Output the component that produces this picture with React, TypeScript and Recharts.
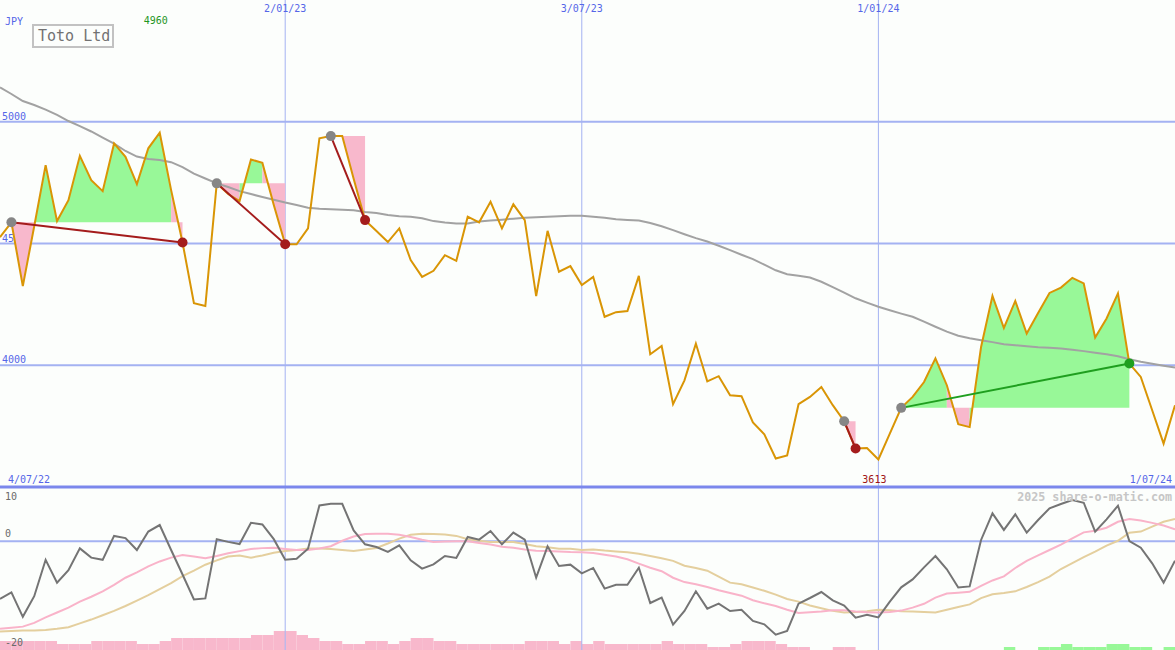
import React from 'react';
import {
  ComposedChart,
  Line,
  Area,
  Bar,
  Cell,
  XAxis,
  YAxis,
  ReferenceLine,
  ReferenceDot,
} from 'recharts';

// ---------------- data (weekly, index 0 = week of 11 Jul 2022) ----------------
const price = [
  4526, 4587, 4325, 4571, 4822, 4592, 4678, 4860, 4760, 4715,
  4911, 4856, 4744, 4891, 4955, 4719, 4504, 4255, 4243, 4747,
  4703, 4674, 4845, 4831, 4658, 4497, 4497, 4562, 4932, 4941,
  4941, 4766, 4596, 4551, 4506, 4562, 4432, 4363, 4388, 4452,
  4429, 4610, 4587, 4671, 4562, 4661, 4596, 4284, 4552, 4384,
  4407, 4329, 4363, 4199, 4218, 4223, 4367, 4045, 4079, 3840,
  3938, 4089, 3934, 3955, 3877, 3873, 3765, 3716, 3617, 3630,
  3840, 3870, 3911, 3836, 3770, 3658, 3660, 3613, 3719, 3825,
  3870, 3931, 4028, 3918, 3758, 3746, 4075, 4285, 4153, 4264,
  4130, 4215, 4297, 4319, 4359, 4336, 4114, 4192, 4295, 4007,
  3952, 3815, 3678, 3836,
];

const movingAvg = [
  5141, 5114, 5085, 5069, 5050, 5028, 5003, 4982, 4960, 4935,
  4910, 4880, 4857, 4847, 4843, 4834, 4814, 4787, 4767, 4747,
  4732, 4715, 4703, 4691, 4680, 4668, 4658, 4647, 4643, 4641,
  4639, 4637, 4629, 4625, 4617, 4612, 4610, 4604, 4592, 4586,
  4582, 4582, 4590, 4594, 4598, 4602, 4606, 4608, 4610, 4612,
  4614, 4614, 4610, 4606, 4600, 4597, 4594, 4584, 4571, 4555,
  4538, 4522, 4508, 4491, 4473, 4454, 4436, 4413, 4390, 4374,
  4368, 4360, 4343, 4321, 4298, 4275, 4257, 4240, 4226, 4212,
  4199, 4179, 4158, 4138, 4121, 4111, 4103, 4095, 4086, 4082,
  4078, 4074, 4072, 4069, 4064, 4058, 4051, 4045, 4037, 4025,
  4014, 4006, 3998, 3991,
];

const oscillator = [
  -10.6, -9.4, -13.9, -10.1, -3.4, -7.6, -5.3, -1.3, -3.0, -3.4,
  1.0, 0.6, -1.6, 1.8, 3.0, -1.6, -6.1, -10.7, -10.5, 0.4,
  -0.1, -0.5, 3.4, 3.1, 0.4, -3.4, -3.2, -1.35, 6.6, 6.9,
  6.9, 2.0, -0.55, -1.04, -1.96, -0.74, -3.5, -5.03, -4.23, -2.7,
  -3.07, 0.8, 0.31, 1.9, -0.55, 1.6, 0.31, -6.69, -0.92, -4.54,
  -4.29, -5.9, -4.9, -8.7, -7.98, -7.98, -4.85, -11.35, -10.37, -15.34,
  -12.82, -9.2, -12.39, -11.47, -12.82, -12.58, -14.66, -15.28, -17.18, -16.5,
  -11.47, -10.43, -9.33, -10.86, -11.84, -14.05, -13.5, -14.0, -11.1, -8.47,
  -7.0, -4.8, -2.7, -5.15, -8.5, -8.3, 0.25, 5.15, 2.1, 4.97,
  1.6, 3.93, 6.07, 6.87, 7.6, 7.1, 1.78, 4.05, 6.56, 0.06,
  -1.17, -4.05, -7.6, -3.56,
];

const oscFast = [
  -16.1, -15.9, -15.7, -15.0, -14.0, -13.1, -12.2, -11.1, -10.2, -9.2,
  -8.0, -6.7, -5.7, -4.6, -3.7, -3.0, -2.5, -2.8, -3.1, -2.7,
  -2.2, -1.8, -1.4, -1.25, -1.2, -1.4, -1.6, -1.6, -1.3, -0.9,
  0.1, 0.9, 1.35, 1.41, 1.4, 1.23, 0.8, 0.3, -0.1, -0.05,
  0, 0, -0.3, -0.6, -1.0, -1.2, -1.5, -1.75, -1.8, -1.85,
  -1.95, -2.0, -2.15, -2.45, -2.8, -3.3, -4.1, -4.85, -5.5, -6.7,
  -7.5, -7.9, -8.4, -9.0, -9.5, -10.0, -10.85, -11.4, -11.9, -12.6,
  -13.2, -13.05, -12.9, -12.7, -12.7, -12.9, -13.05, -13.1, -13.0, -12.75,
  -12.2, -11.5, -10.35, -9.6, -9.45, -9.3, -8.2, -7.2, -6.45, -4.9,
  -3.6, -2.6, -1.6, -0.6, 0.55, 1.65, 1.95, 2.5, 3.6, 4.1,
  3.85, 3.4, 2.9, 2.2,
];

const oscSlow = [
  -16.6, -16.5, -16.4, -16.4, -16.3, -16.1, -15.8, -15.1, -14.4, -13.6,
  -12.8, -11.9, -10.9, -9.9, -8.8, -7.7, -6.4, -5.4, -4.3, -3.5,
  -2.8, -2.6, -3.0, -2.6, -2.1, -1.8, -1.6, -1.3, -1.3, -1.4,
  -1.6, -1.8, -1.5, -1.23, -0.4, 0.5, 1.2, 1.4, 1.35, 1.25,
  1.0, 0.4, 0.1, -0.1, -0.12, -0.12, -0.5, -0.92, -1.1, -1.35,
  -1.35, -1.6, -1.5, -1.7, -1.85, -2.0, -2.3, -2.7, -3.1, -3.6,
  -4.5, -4.9, -5.4, -6.5, -7.6, -7.9, -8.5, -9.1, -9.8, -10.6,
  -11.1, -11.8, -12.3, -12.8, -13.1, -13.0, -12.85, -12.6, -12.7, -12.85,
  -12.9, -13.0, -13.1, -12.6, -12.1, -11.6, -10.45, -9.75, -9.5, -9.2,
  -8.4, -7.5, -6.5, -5.1, -4.0, -2.9, -1.9, -0.8, 0.1, 1.6,
  1.8, 2.7, 3.6, 4.1,
];

// signed histogram (negative = pink, positive = green), one per week interval
const histogram = [
  -9, -9, -9, -9, -9, -6, -6, -6, -9, -9,
  -9, -9, -6, -6, -9, -12, -12, -12, -12, -12,
  -12, -12, -15, -15, -19, -19, -15, -12, -9, -9,
  -6, -6, -9, -9, -6, -9, -12, -12, -9, -9,
  -6, -6, -6, -6, -6, -6, -9, -9, -9, -6,
  -9, -6, -9, -6, -6, -6, -6, -6, -9, -6,
  -6, -6, -3, -3, -6, -9, -9, -9, -6, -3,
  -3, 0, 0, -3, -3, 0, 0, 0, 0, 0,
  0, 0, 0, 0, 0, 0, 0, 0, 3, 0,
  0, 3, 3, 6, 3, 3, 3, 6, 6, 3,
  3, 0, 3, 0,
];

const trades = [
  { start: 1, end: 16 },
  { start: 19, end: 25 },
  { start: 29, end: 32 },
  { start: 74, end: 75 },
  { start: 79, end: 99 },
];

const priceTicks = [4000, 4500, 5000];
const priceDomain: [number, number] = [3500, 5500];
const oscDomain: [number, number] = [-20, 10];
const histDomain: [number, number] = [0, 163];
const weekDomain: [number, number] = [0, 103];
const dateLines = [
  { label: '2/01/23', week: 25 },
  { label: '3/07/23', week: 51 },
  { label: '1/01/24', week: 77 },
];
const firstDateLabel = '4/07/22';
const lastDateLabel = '1/07/24';
const highLabel = { text: '4960', week: 14 };
const lowLabel = { text: '3613', week: 77 };
const currency = 'JPY';
const title = 'Toto Ltd';
const oscTickLabels = [
  { text: '10', value: 10 },
  { text: '0', value: 0 },
  { text: '-20', value: -20 },
];
const watermark = '2025 share-o-matic.com';

// ---------------- styles ----------------
const WIDTH = 1175;
const MAIN_H = 487;
const LOW_TOP = 485;
const LOW_H = 165;
const MONO = '"DejaVu Sans Mono", "Liberation Mono", monospace';
const BG = '#fcfefc';
const GRID = '#a4b2f2';
const SEP = '#7b87ec';
const BLUE_TXT = '#5566e8';
const ORANGE = '#d99505';
const GREEN_FILL = '#98f898';
const PINK_FILL = '#f8b8cc';
const LOSS = '#a41c1c';
const WIN = '#1f9f1f';
const MARGIN0 = { top: 0, right: 0, bottom: 0, left: 0 };

// ---------------- derived chart rows ----------------
type Row = Record<string, number | null | undefined>;
const mainData: Row[] = price.map((p, i) => ({ i, price: p, ma: movingAvg[i] }));
const runs: { key: string; base: number; color: string }[] = [];
const tradeLines: { key: string; color: string }[] = [];

trades.forEach((t, k) => {
  const base = price[t.start];
  const pushRun = (a: number, b: number, c: string) => {
    const key = `run${runs.length}`;
    for (let i = a; i <= b; i++) mainData[i][key] = price[i];
    runs.push({ key, base, color: c === 'g' ? GREEN_FILL : PINK_FILL });
  };
  let runStart = t.start;
  let runColor: string | null = null;
  for (let j = t.start; j < t.end; j++) {
    const c = price[j + 1] >= base ? 'g' : 'p';
    if (runColor === null) runColor = c;
    else if (c !== runColor) {
      pushRun(runStart, j, runColor);
      runStart = j;
      runColor = c;
    }
  }
  pushRun(runStart, t.end, runColor || 'p');
  const win = price[t.end] > base;
  const key = `tl${k}`;
  mainData[t.start][key] = base;
  mainData[t.end][key] = price[t.end];
  tradeLines.push({ key, color: win ? WIN : LOSS });
  mainData[t.start].dotStart = base;
  mainData[t.end][win ? 'dotWin' : 'dotLoss'] = price[t.end];
});

const lowData = oscillator.map((v, i) => ({
  i,
  ib: i + 0.5,
  osc: v,
  fast: oscFast[i],
  slow: oscSlow[i],
  h: Math.abs(histogram[i]),
  hs: histogram[i],
}));

const oscY = (v: number) => LOW_TOP + 2 + ((oscDomain[1] - v) / (oscDomain[1] - oscDomain[0])) * (LOW_H - 2);

const layer: React.CSSProperties = { position: 'absolute', left: 0, top: 0 };

export default function App() {
  return (
    <div
      style={{
        position: 'absolute',
        left: 0,
        top: 0,
        width: WIDTH,
        height: 650,
        background: BG,
        overflow: 'hidden',
        fontFamily: MONO,
      }}
    >
      {/* background grid layer of the price panel (drawn under the fills) */}
      <div style={layer}>
        <ComposedChart width={WIDTH} height={MAIN_H} data={mainData} margin={MARGIN0}>
          <XAxis type="number" dataKey="i" domain={weekDomain} hide allowDataOverflow />
          <YAxis type="number" domain={priceDomain} hide allowDataOverflow />
          <Line dataKey="price" stroke="none" dot={false} activeDot={false} isAnimationActive={false} />
          {dateLines.map((d) => (
            <ReferenceLine
              key={d.label}
              x={d.week}
              stroke={GRID}
              strokeWidth={1}
              label={{ value: d.label, position: 'insideTop', offset: 5, fill: BLUE_TXT, fontSize: 10, fontFamily: MONO }}
            />
          ))}
          {priceTicks.map((v) => (
            <ReferenceLine
              key={v}
              y={v}
              stroke={GRID}
              strokeWidth={2}
              label={{ value: String(v), position: 'insideBottomLeft', offset: 2, fill: BLUE_TXT, fontSize: 10, fontFamily: MONO }}
            />
          ))}
        </ComposedChart>
      </div>

      {/* price panel series */}
      <div style={layer}>
        <ComposedChart width={WIDTH} height={MAIN_H} data={mainData} margin={MARGIN0}>
          <XAxis type="number" dataKey="i" domain={weekDomain} hide allowDataOverflow />
          <YAxis type="number" domain={priceDomain} hide allowDataOverflow />
          {runs.map((r) => (
            <Area
              key={r.key}
              type="linear"
              dataKey={r.key}
              baseValue={r.base}
              stroke="none"
              fill={r.color}
              fillOpacity={1}
              dot={false}
              activeDot={false}
              isAnimationActive={false}
            />
          ))}
          <Line type="linear" dataKey="ma" stroke="#a2a2a2" strokeWidth={2} dot={false} activeDot={false} isAnimationActive={false} />
          <Line type="linear" dataKey="price" stroke={ORANGE} strokeWidth={2} dot={false} activeDot={false} isAnimationActive={false} />
          {tradeLines.map((t) => (
            <Line
              key={t.key}
              type="linear"
              dataKey={t.key}
              stroke={t.color}
              strokeWidth={2}
              connectNulls
              dot={false}
              activeDot={false}
              isAnimationActive={false}
            />
          ))}
          <Line dataKey="dotStart" stroke="none" dot={{ r: 5, fill: '#868686', stroke: 'none' }} activeDot={false} isAnimationActive={false} />
          <Line dataKey="dotLoss" stroke="none" dot={{ r: 5, fill: LOSS, stroke: 'none' }} activeDot={false} isAnimationActive={false} />
          <Line dataKey="dotWin" stroke="none" dot={{ r: 5, fill: WIN, stroke: 'none' }} activeDot={false} isAnimationActive={false} />
          <ReferenceDot
            x={highLabel.week}
            y={priceDomain[1]}
            r={1}
            fill="none"
            stroke="none"
            label={{ value: highLabel.text, position: 'bottom', offset: 16, dx: -4, fill: '#1f961f', fontSize: 10, fontFamily: MONO }}
          />
          <ReferenceDot
            x={lowLabel.week}
            y={priceDomain[0]}
            r={1}
            fill="none"
            stroke="none"
            label={{ value: lowLabel.text, position: 'top', offset: 3, dx: -4, fill: '#a01414', fontSize: 10, fontFamily: MONO }}
          />
        </ComposedChart>
      </div>

      {/* indicator panel */}
      <div style={{ position: 'absolute', left: 0, top: LOW_TOP }}>
        <ComposedChart width={WIDTH} height={LOW_H} data={lowData} margin={{ top: 2, right: 0, bottom: 0, left: 0 }}>
          <XAxis xAxisId="a" type="number" dataKey="i" domain={weekDomain} hide allowDataOverflow />
          <XAxis xAxisId="b" type="number" dataKey="ib" domain={weekDomain} hide allowDataOverflow />
          <YAxis yAxisId="o" type="number" domain={oscDomain} hide allowDataOverflow />
          <YAxis yAxisId="h" type="number" domain={histDomain} hide allowDataOverflow />
          {dateLines.map((d) => (
            <ReferenceLine key={d.label} xAxisId="a" yAxisId="o" x={d.week} stroke={GRID} strokeWidth={1} />
          ))}
          <ReferenceLine xAxisId="a" yAxisId="o" y={0} stroke={GRID} strokeWidth={2} />
          <Bar xAxisId="b" yAxisId="h" dataKey="h" barSize={11.4} isAnimationActive={false}>
            {lowData.map((d) => (
              <Cell key={d.i} fill={d.hs >= 0 ? GREEN_FILL : PINK_FILL} />
            ))}
          </Bar>
          <Line xAxisId="a" yAxisId="o" type="linear" dataKey="slow" stroke="#e4cf9e" strokeWidth={2} dot={false} activeDot={false} isAnimationActive={false} />
          <Line xAxisId="a" yAxisId="o" type="linear" dataKey="fast" stroke="#f9b3c9" strokeWidth={2} dot={false} activeDot={false} isAnimationActive={false} />
          <Line xAxisId="a" yAxisId="o" type="linear" dataKey="osc" stroke="#747474" strokeWidth={2} dot={false} activeDot={false} isAnimationActive={false} />
          <ReferenceLine xAxisId="a" yAxisId="o" y={oscDomain[1]} stroke={SEP} strokeWidth={3} />
        </ComposedChart>
      </div>

      <svg width={WIDTH} height={650} style={{ ...layer, pointerEvents: 'none' }}>
        <text x={5} y={25} fill={BLUE_TXT} fontSize={10} fontFamily={MONO}>{currency}</text>
        <rect x={33} y={25} width={80} height={22} fill="none" stroke="#c2c2c2" strokeWidth={2} />
        <text x={38} y={41} fill="#727272" fontSize={15} fontFamily={MONO}>{title}</text>
        <text x={8} y={483} fill={BLUE_TXT} fontSize={10} fontFamily={MONO}>{firstDateLabel}</text>
        <text x={1172} y={483} fill={BLUE_TXT} fontSize={10} fontFamily={MONO} textAnchor="end">{lastDateLabel}</text>
        <text x={1172} y={501} fill="#c6c6c6" fontSize={11.7} fontWeight="bold" fontFamily={MONO} textAnchor="end">{watermark}</text>
        {oscTickLabels.map((t) => (
          <text
            key={t.text}
            x={5}
            y={t.value === oscDomain[1] ? oscY(t.value) + 13 : oscY(t.value) - 4}
            fill="#6a6a6a"
            fontSize={10}
            fontFamily={MONO}
          >
            {t.text}
          </text>
        ))}
      </svg>
    </div>
  );
}
